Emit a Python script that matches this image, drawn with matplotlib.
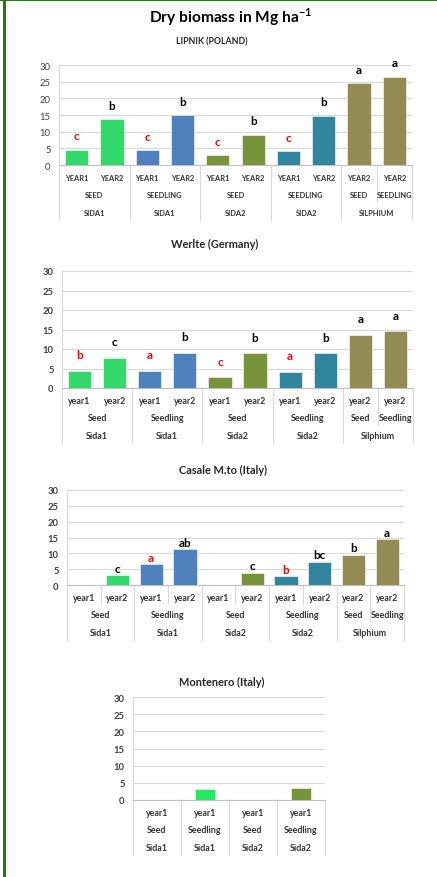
import numpy as np
import matplotlib
matplotlib.use('Agg')
import matplotlib.pyplot as plt
from matplotlib.patches import Rectangle

plt.rcParams['font.family'] = ['Lato', 'DejaVu Sans']
plt.rcParams['mathtext.fontset'] = 'custom'
plt.rcParams['mathtext.rm'] = 'Lato'
plt.rcParams['mathtext.bf'] = 'Lato:bold'

### data (Mg/ha)
years = ['year1', 'year2', 'year1', 'year2', 'year1', 'year2', 'year1', 'year2', 'year2', 'year2']
methods = [('Seed', 2), ('Seedling', 2), ('Seed', 2), ('Seedling', 2), ('Seed', 1), ('Seedling', 1)]
species = [('Sida1', 2), ('Sida1', 2), ('Sida2', 2), ('Sida2', 2), ('Silphium', 2)]
bar_colors = ['#33d96b', '#33d96b', '#4f81bd', '#4f81bd', '#77933c', '#77933c',
              '#31859c', '#31859c', '#948a54', '#948a54']

lipnik_vals = [4.5, 13.7, 4.4, 15.0, 2.9, 9.1, 4.2, 14.7, 24.5, 26.5]
lipnik_letters = ['c', 'b', 'c', 'b', 'c', 'b', 'c', 'b', 'a', 'a']

werlte_vals = [4.4, 7.8, 4.4, 9.1, 2.8, 8.9, 4.2, 8.9, 13.6, 14.5]
werlte_letters = ['b', 'c', 'a', 'b', 'c', 'b', 'a', 'b', 'a', 'a']

casale_vals = [np.nan, 3.1, 6.6, 11.3, np.nan, 3.9, 2.8, 7.3, 9.5, 14.5]
casale_letters = ['', 'c', 'a', 'ab', '', 'c', 'b', 'bc', 'b', 'a']

mont_years = ['year1', 'year1', 'year1', 'year1']
mont_methods = [('Seed', 1), ('Seedling', 1), ('Seed', 1), ('Seedling', 1)]
mont_species = [('Sida1', 1), ('Sida1', 1), ('Sida2', 1), ('Sida2', 1)]
mont_vals = [np.nan, 3.1, np.nan, 3.5]
mont_colors = ['#22e862', '#22e862', '#77933c', '#77933c']

W, H = 437, 878
fig = plt.figure(figsize=(W / 100, H / 100), dpi=100)

# green frame (left + top)
fig.add_artist(Rectangle((3 / W, 0), 3 / W, 1, transform=fig.transFigure, color='#237a12', lw=0))
fig.add_artist(Rectangle((0, 1 - 2 / H), 1, 2 / H, transform=fig.transFigure, color='#237a12', lw=0))


def smallcaps(s, on):
    return s.upper() if on else s


def panel(x0, x1, ytop, ybot, vals, colors, letters, yrs, meth, spec, width,
          let_off, caps=False, short_div=False, bold_ticks=True):
    ax = fig.add_axes([x0 / W, 1 - ybot / H, (x1 - x0) / W, (ybot - ytop) / H])
    hpx = ybot - ytop
    n = len(vals)
    x = np.arange(n)
    ax.bar(x, vals, width=width, color=colors, edgecolor='#ffffff', linewidth=0.4, zorder=3)
    ax.set_xlim(-0.5, n - 0.5)
    ax.set_ylim(0, 30)
    ax.set_yticks(range(0, 31, 5))
    ax.set_xticks([])
    ax.tick_params(axis='y', length=0, pad=6, labelsize=6.8, labelcolor='#404040')
    if bold_ticks:
        for t in ax.get_yticklabels():
            t.set_fontweight('bold')
    ax.grid(axis='y', color='#d9d9d9', lw=0.8, zorder=0)
    for s in ['top', 'right']:
        ax.spines[s].set_visible(False)
    ax.spines['left'].set_color('#d9d9d9')
    ax.spines['bottom'].set_color('#bfbfbf')

    # significance letters
    for i in range(n):
        if letters[i] == '' or np.isnan(vals[i]):
            continue
        col = 'red' if yrs[i] == 'year1' else 'black'
        ax.annotate(letters[i], (x[i], vals[i]), xytext=(0, let_off * 0.72), textcoords='offset points',
                    ha='center', va='center', fontsize=8.5, fontweight='bold', color=col)

    tr = ax.get_xaxis_transform()
    fs = 5.4 if caps else 6.4
    rows = [12.5, 30, 48]
    # level 1 labels
    for i in range(n):
        ax.text(x[i], -rows[0] / hpx, smallcaps(yrs[i], caps), transform=tr, ha='center', va='center',
                fontsize=fs, fontweight='bold', color='#333333')
    # level 2 and 3 labels + dividers
    edges2 = np.cumsum([0] + [c for _, c in meth])
    edges3 = np.cumsum([0] + [c for _, c in spec])
    for (lab, c), e in zip(meth, edges2[:-1]):
        ax.text(e + c / 2 - 0.5, -rows[1] / hpx, smallcaps(lab, caps), transform=tr, ha='center',
                va='center', fontsize=fs, fontweight='bold', color='#333333')
    for (lab, c), e in zip(spec, edges3[:-1]):
        ax.text(e + c / 2 - 0.5, -rows[2] / hpx, smallcaps(lab, caps), transform=tr, ha='center',
                va='center', fontsize=fs, fontweight='bold', color='#333333')
    div_len = {}
    if short_div:
        for e in range(n + 1):
            div_len[e] = 19
    for e in edges2:
        div_len[e] = 37
    for e in edges3:
        div_len[e] = 55
    for e, L in div_len.items():
        ax.plot([e - 0.5, e - 0.5], [0, -L / hpx], transform=tr, color='#d9d9d9', lw=0.8, clip_on=False)
    return ax


panel(59, 412, 66, 166, lipnik_vals, bar_colors, lipnik_letters, years, methods, species,
      0.66, 14, caps=True, bold_ticks=False)
panel(62, 413, 272, 389, werlte_vals, bar_colors, werlte_letters, years, methods, species,
      0.66, 16)
panel(67, 404, 491, 586, casale_vals, bar_colors, casale_letters, years, methods, species,
      0.69, 7, short_div=True)
panel(133, 325, 698, 801, mont_vals, mont_colors, ['', '', '', ''], mont_years, mont_methods,
      mont_species, 0.4, 8)

# titles
fig.text(231 / W, 1 - 17 / H, r'Dry biomass in Mg ha$^{\mathbf{-1}}$', ha='center', va='center',
         fontsize=11.2, fontweight='bold')
fig.text(212 / W, 1 - 42 / H, 'LIPNIK (POLAND)', ha='center', va='center', fontsize=6.3,
         fontweight='bold', color='#262626')
fig.text(215 / W, 1 - 244 / H, 'Werlte (Germany)', ha='center', va='center', fontsize=7.9,
         fontweight='bold', color='#262626')
fig.text(223 / W, 1 - 470 / H, 'Casale M.to (Italy)', ha='center', va='center', fontsize=7.9,
         fontweight='bold', color='#262626')
fig.text(222 / W, 1 - 682 / H, 'Montenero (Italy)', ha='center', va='center', fontsize=7.9,
         fontweight='bold', color='#262626')

fig.savefig('out.png', dpi=100)
